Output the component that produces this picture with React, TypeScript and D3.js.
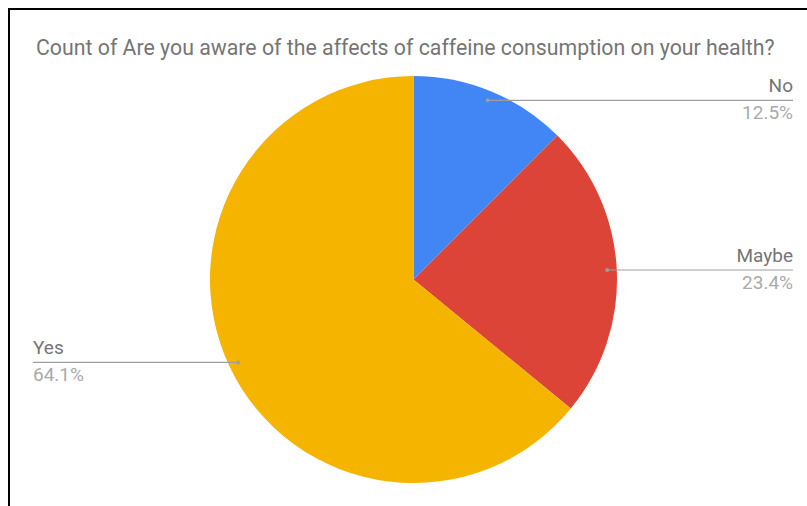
import React from "react";
import * as d3 from "d3";

const categories = ["No", "Maybe", "Yes"];
const counts = [8, 15, 41];
const colors = ["#4285F4", "#DB4437", "#F4B400"];
const title = "Count of Are you aware of the affects of caffeine consumption on your health?";

const W = 807;
const H = 506;
const cx = 413.5;
const cy = 279.5;
const R = 203.5;
const anchorR = R * 0.953;
const rightEdge = 793;
const leftEdge = 33;

export default function App() {
  const total = d3.sum(counts);
  const pie = d3.pie<number>().sort(null).value((d) => d)(counts);
  const arc = d3.arc<d3.PieArcDatum<number>>().innerRadius(0).outerRadius(R);
  const fmt = d3.format(".1%");

  return (
    <svg
      width={W}
      height={H}
      style={{ position: "absolute", left: 0, top: 0, fontFamily: "Roboto, sans-serif" }}
    >
      <rect x={0} y={0} width={W} height={H} fill="#fff" />
      <line x1={8} x2={W} y1={9} y2={9} stroke="#000" strokeWidth={2} />
      <line x1={9} x2={9} y1={8} y2={H} stroke="#000" strokeWidth={2} />
      <text x={36} y={55} fontSize={21.3} fill="#757575">
        {title}
      </text>
      <g transform={`translate(${cx},${cy})`}>
        {pie.map((p, i) => (
          <path key={categories[i]} d={arc(p) || ""} fill={colors[i]} />
        ))}
      </g>
      {pie.map((p, i) => {
        const mid = (p.startAngle + p.endAngle) / 2;
        const ax = cx + anchorR * Math.sin(mid);
        const ay = cy - anchorR * Math.cos(mid);
        const right = Math.sin(mid) >= 0;
        const ex = right ? rightEdge : leftEdge;
        const anchor = right ? "end" : "start";
        return (
          <g key={categories[i]}>
            <line x1={ax} x2={ex} y1={ay} y2={ay} stroke="#9e9e9e" strokeWidth={1.2} />
            <circle cx={ax} cy={ay} r={2} fill="#9e9e9e" />
            <text x={ex} y={ay - 8} fontSize={19} fill="#757575" textAnchor={anchor}>
              {categories[i]}
            </text>
            <text x={ex} y={ay + 19} fontSize={19} fill="#aaaaaa" textAnchor={anchor}>
              {fmt(counts[i] / total)}
            </text>
          </g>
        );
      })}
    </svg>
  );
}
